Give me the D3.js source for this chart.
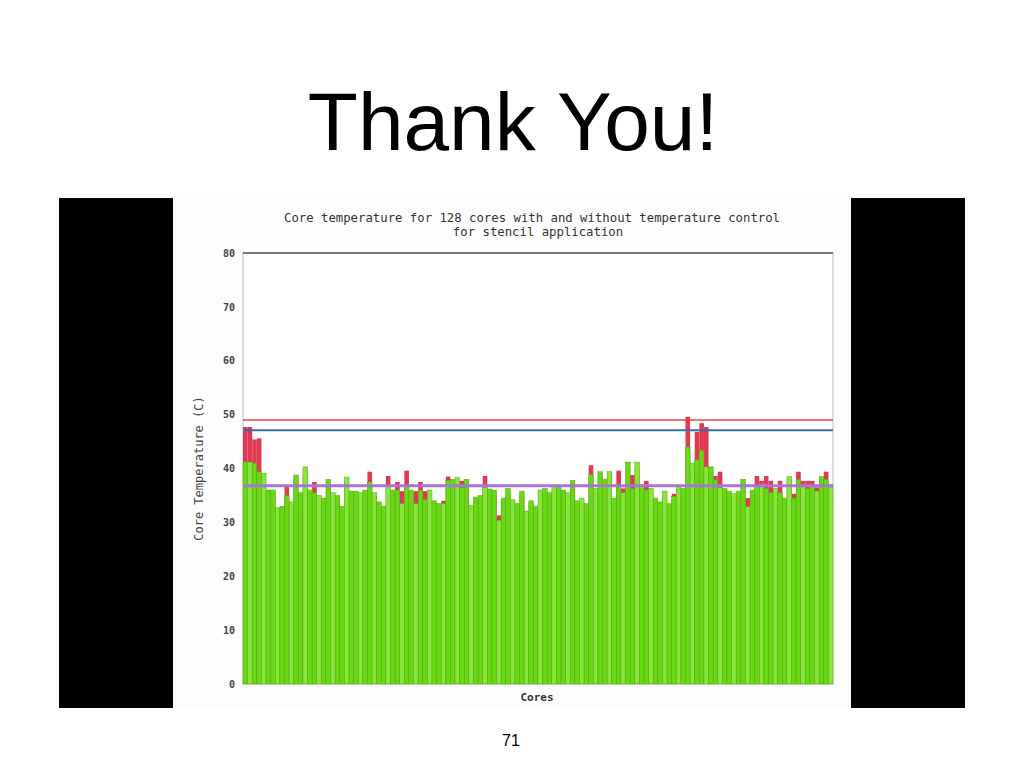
<!DOCTYPE html>
<html>
<head>
<meta charset="utf-8">
<script src="https://cdn.jsdelivr.net/npm/d3@7"></script>
<style>
  body { margin: 0; background: #fff; }
  svg { display: block; }
</style>
</head>
<body>
<svg id="slide" width="1024" height="768"></svg>
<script>
// core temperatures (deg C)
const withControl = [
  41.2, 41.2, 41, 39.4, 39.1, 36, 36, 32.7, 33, 35, 33.8, 38.8, 35.5, 40.3, 36, 35.5,
  35, 34.5, 38, 35.5, 35, 33, 38.4, 35.8, 35.8, 35.5, 36, 37.5, 35.5, 33.8, 33, 36.8,
  36, 36, 33.5, 36.8, 36, 33.5, 36, 34.2, 36, 34, 33.5, 33.5, 37.8, 38, 38.3, 36.5,
  38, 33.2, 34.7, 35, 36.5, 36.2, 36, 30.4, 34.5, 36.3, 34.2, 33.5, 35.8, 32.1, 34, 33,
  36, 36.3, 35.5, 36.8, 36.5, 36, 35.5, 37.8, 34, 34.5, 33.5, 38.9, 36.3, 39.4, 38, 39.4,
  34.5, 36.8, 35.5, 41.2, 36.3, 41.2, 37, 36, 36.3, 34.5, 33.8, 35.8, 33.5, 34.8, 36.8, 36.3,
  44, 41, 41.6, 43.4, 40.3, 40.3, 37.9, 36.5, 36.3, 35.8, 35.3, 35.8, 38, 32.9, 36, 36.8,
  37, 36.3, 35.5, 36.3, 35.5, 34.5, 38.5, 34.5, 38, 36.8, 36.3, 37, 35.8, 38.5, 38, 37
];
const withoutControl = [
  47.7, 47.7, 45.4, 45.6, 38.5, 35, 35.5, 32, 32.5, 37, 33, 38, 35, 39, 35, 37.5,
  34, 34, 37, 35, 34.5, 32, 37.5, 35, 35, 35, 35.5, 39.4, 35, 33, 32.5, 38.6,
  35.5, 37.5, 35.8, 39.6, 35.5, 35.8, 37.5, 35.8, 35, 33.5, 33, 34, 38.5, 37.5, 37.5, 37.7,
  37.5, 32.5, 34, 34.5, 38.6, 35.5, 35.5, 31.3, 34, 35.5, 33.5, 33, 35, 31.5, 33.5, 32.5,
  35.5, 35.5, 35, 36, 36, 35.5, 35, 37, 33.5, 34, 33, 40.6, 35.5, 38.5, 37.5, 38.5,
  34, 39.6, 36.3, 40, 38.8, 40, 36.5, 37.7, 35.5, 34, 33, 35, 33, 35.3, 36, 35.5,
  49.6, 40, 46.8, 48.4, 47.7, 39.5, 38.6, 39.4, 35.5, 35, 34.5, 35, 37.5, 34.5, 35.5, 38.6,
  37.7, 38.6, 37.7, 35.5, 37.7, 34, 38, 35.3, 39.4, 37.7, 37.7, 37.7, 36.5, 38, 39.4, 36.5
];
const cores = withControl.map((d, i) => i + 1);
const refValues = [49, 47.1, 36.8];
const refColors = ['#ee4444', '#3b6ea8', '#a874d8'];
const refWidths = [1.6, 2, 3];
const yTicks = [0, 10, 20, 30, 40, 50, 60, 70, 80];

const svg = d3.select('#slide');
const mono = 'DejaVu Sans Mono, monospace';

// slide title
svg.append('text')
    .attr('x', 513)
    .attr('y', 150)
    .attr('text-anchor', 'middle')
    .style('font-family', 'Liberation Sans, Arial, sans-serif')
    .style('font-size', '82px')
    .text('Thank You!');

// black frame and white chart picture
svg.append('rect')
    .attr('x', 59).attr('y', 198)
    .attr('width', 906).attr('height', 510)
    .attr('fill', '#000');
svg.append('rect')
    .attr('x', 173).attr('y', 198)
    .attr('width', 678).attr('height', 510)
    .attr('fill', '#fdfdfd');

const plotLeft = 243, plotRight = 833, plotTop = 253, plotBottom = 684;

const x = d3.scaleBand()
    .domain(cores)
    .range([plotLeft, plotRight])
    .padding(0);

const y = d3.scaleLinear()
    .domain([0, 80])
    .range([plotBottom, plotTop]);

// chart title
svg.append('text')
    .attr('x', 532).attr('y', 222)
    .attr('text-anchor', 'middle')
    .style('font-family', mono)
    .style('font-size', '12.3px')
    .attr('fill', '#333')
    .text('Core temperature for 128 cores with and without temperature control');
svg.append('text')
    .attr('x', 538).attr('y', 236)
    .attr('text-anchor', 'middle')
    .style('font-family', mono)
    .style('font-size', '12.3px')
    .attr('fill', '#333')
    .text('for stencil application');

// plot frame
svg.append('rect')
    .attr('x', plotLeft).attr('y', plotTop)
    .attr('width', plotRight - plotLeft).attr('height', plotBottom - plotTop)
    .attr('fill', '#fff')
    .attr('stroke', '#bbb')
    .attr('stroke-width', 1);
svg.append('line')
    .attr('x1', plotLeft).attr('x2', plotRight)
    .attr('y1', plotTop).attr('y2', plotTop)
    .attr('stroke', '#777')
    .attr('stroke-width', 2);

// y axis labels
const yAxis = svg.append('g')
    .attr('transform', `translate(${plotLeft - 8},0)`)
    .call(d3.axisLeft(y).tickValues(yTicks).tickSize(0).tickPadding(0));
yAxis.select('.domain').remove();
yAxis.selectAll('text')
    .style('font-family', mono)
    .style('font-size', '10px')
    .style('font-weight', 'bold')
    .attr('fill', '#444');

svg.append('text')
    .attr('transform', `translate(203,${(plotTop + plotBottom) / 2}) rotate(-90)`)
    .attr('text-anchor', 'middle')
    .style('font-family', mono)
    .style('font-size', '12px')
    .attr('fill', '#444')
    .text('Core Temperature (C)');

svg.append('text')
    .attr('x', 537).attr('y', 701)
    .attr('text-anchor', 'middle')
    .style('font-family', mono)
    .style('font-size', '11px')
    .style('font-weight', 'bold')
    .attr('fill', '#333')
    .text('Cores');

// bars: without control behind, with control in front
svg.append('g')
  .selectAll('rect')
    .data(withoutControl)
  .enter().append('rect')
    .attr('x', (d, i) => x(cores[i]))
    .attr('y', d => y(d))
    .attr('width', x.bandwidth())
    .attr('height', d => plotBottom - y(d))
    .attr('fill', '#e03a52');

svg.append('g')
  .selectAll('rect')
    .data(withControl)
  .enter().append('rect')
    .attr('x', (d, i) => x(cores[i]))
    .attr('y', d => y(d))
    .attr('width', x.bandwidth())
    .attr('height', d => plotBottom - y(d))
    .attr('fill', (d, i) => (i % 3 === 1 ? '#86e63a' : '#66d814'))
    .attr('stroke', '#5aa812')
    .attr('stroke-width', 0.5);

// reference lines
svg.append('g')
  .selectAll('line')
    .data(refValues)
  .enter().append('line')
    .attr('x1', plotLeft).attr('x2', plotRight)
    .attr('y1', d => y(d)).attr('y2', d => y(d))
    .attr('stroke', (d, i) => refColors[i])
    .attr('stroke-width', (d, i) => refWidths[i]);

// page number
svg.append('text')
    .attr('x', 511).attr('y', 746)
    .attr('text-anchor', 'middle')
    .style('font-family', 'Liberation Sans, Arial, sans-serif')
    .style('font-size', '16px')
    .text('71');
</script>
</body>
</html>
